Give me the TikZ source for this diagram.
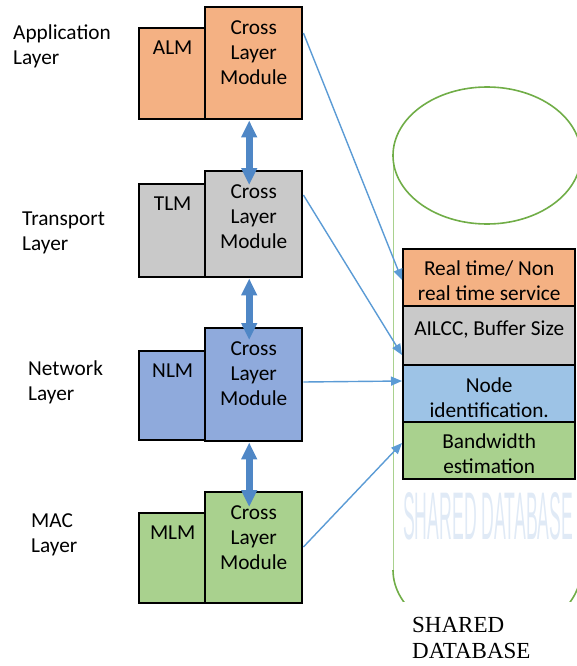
\documentclass[tikz,border=0pt]{standalone}
\usepackage{fontspec}
\setmainfont{Carlito}
\newfontfamily\serifdb{Liberation Serif}
\newfontfamily\sansdb{Liberation Sans}
\usetikzlibrary{arrows.meta,calc}
\definecolor{orfill}{RGB}{244,177,131}
\definecolor{grfill}{RGB}{201,201,201}
\definecolor{lbfill}{RGB}{143,170,220}
\definecolor{rbfill}{RGB}{157,195,230}
\definecolor{gnfill}{RGB}{169,209,142}
\definecolor{rim}{RGB}{112,173,71}
\definecolor{rimlight}{RGB}{169,209,142}
\definecolor{dblblue}{RGB}{79,135,198}
\definecolor{linkblue}{RGB}{91,155,213}
\definecolor{wmark}{RGB}{224,234,246}
\begin{document}
\begin{tikzpicture}[x=1pt,y=-1pt,
  box/.style={draw=black, line width=2.4pt, inner sep=0pt, anchor=north west},
  txt/.style={font=\fontsize{21.3}{25}\selectfont, inner sep=0pt, align=center, anchor=north},
  lay/.style={font=\fontsize{21.3}{25}\selectfont, inner sep=0pt, align=left, anchor=north west},
  dbl/.style={draw=dblblue, line width=7pt, {Triangle[length=17pt,width=15pt]}-{Triangle[length=17pt,width=15pt]}},
  link/.style={draw=linkblue, line width=1.4pt, -{Triangle[length=11pt,width=9pt]}},
  cylrim/.style={draw=rim, line width=1.6pt},
  cylside/.style={draw=rimlight, line width=1pt}]
\useasboundingbox (0,0) rectangle (577,666);
\clip (0,0) rectangle (577,666);

% shared database cylinder
\draw[cylside] (393,155) -- (393,570);
\draw[cylrim] (487,155.5) ellipse [x radius=94, y radius=68.5];
\begin{scope}
  \clip (380,570) rectangle (577,666);
  \draw[cylrim] (487,570) ellipse [x radius=94, y radius=68.5];
\end{scope}
\fill[white] (380,602) rectangle (577,666);
\node[anchor=south west, inner sep=0pt, text=wmark] (wm) at (403,540) {\resizebox{170pt}{47pt}{\sansdb SHARED DATABASE}};
\node[anchor=north west, inner sep=0pt, align=left, font=\serifdb\fontsize{23}{26}\selectfont] (dbl) at (412,617) {SHARED\\DATABASE};

% layer labels
\node[lay] (lApp) at (13,25) {Application\\Layer};
\node[lay] (lTr) at (22,212) {Transport\\Layer};
\node[lay] (lNet) at (28,360.5) {Network\\Layer};
\node[lay] (lMac) at (31,513) {MAC\\Layer};

% application
\node[box, fill=orfill, minimum width=67pt, minimum height=91pt] (alm) at (138,27) {};
\node[box, fill=orfill, minimum width=97pt, minimum height=112pt] (clmA) at (204,6) {};
\node[txt] (almT) at ([yshift=-14pt]alm.north) {ALM};
\node[txt] (clmAT) at ([yshift=-14pt]clmA.north) {Cross\\Layer\\Module};

% transport
\node[box, fill=grfill, minimum width=67pt, minimum height=93pt] (tlm) at (138,183) {};
\node[box, fill=grfill, minimum width=97pt, minimum height=106pt] (clmT) at (204,170) {};
\node[txt] (tlmT) at ([yshift=-14pt]tlm.north) {TLM};
\node[txt] (clmTT) at ([yshift=-14pt]clmT.north) {Cross\\Layer\\Module};

% network
\node[box, fill=lbfill, minimum width=67pt, minimum height=89pt] (nlm) at (138,350) {};
\node[box, fill=lbfill, minimum width=97pt, minimum height=113pt] (clmN) at (204,327) {};
\node[txt] (nlmT) at ([yshift=-14pt]nlm.north) {NLM};
\node[txt] (clmNT) at ([yshift=-14pt]clmN.north) {Cross\\Layer\\Module};

% MAC
\node[box, fill=gnfill, minimum width=67pt, minimum height=90pt] (mlm) at (138,512) {};
\node[box, fill=gnfill, minimum width=97pt, minimum height=111pt] (clmM) at (204,491) {};
\node[txt] (mlmT) at ([yshift=-14pt]mlm.north) {MLM};
\node[txt] (clmMT) at ([yshift=-14pt]clmM.north) {Cross\\Layer\\Module};

% database entries
\node[box, fill=orfill, minimum width=172pt, minimum height=57pt] (rt1) at (402,248) {};
\node[box, fill=grfill, minimum width=172pt, minimum height=59pt] (rt2) at (402,305) {};
\node[box, fill=rbfill, minimum width=172pt, minimum height=57pt] (rt3) at (402,364) {};
\node[box, fill=gnfill, minimum width=172pt, minimum height=57pt] (rt4) at (402,421) {};
\node[txt] (rt1T) at ([yshift=-13pt]rt1.north) {Real time/ Non\\real time service};
\node[txt] (rt2T) at ([yshift=-16pt]rt2.north) {AILCC, Buffer Size};
\node[txt] (rt3T) at ([yshift=-13.5pt]rt3.north) {Node\\identification.};
\node[txt] (rt4T) at ([yshift=-13pt]rt4.north) {Bandwidth\\estimation};

% vertical double arrows
\draw[dbl] ([xshift=-4.5pt]clmA.south) -- ([xshift=-4.5pt,yshift=-15pt]clmT.north);
\draw[dbl] ([xshift=-4.5pt]clmT.south) -- ([xshift=-4.5pt,yshift=-13pt]clmN.north);
\draw[dbl] ([xshift=-4.5pt]clmN.south) -- ([xshift=-4.5pt,yshift=-16pt]clmM.north);

% links to database
\draw[link] ([yshift=-27pt]clmA.north east) -- ([yshift=-32pt]rt1.north west);
\draw[link] ([yshift=-25pt]clmT.north east) -- ([yshift=-50pt]rt2.north west);
\draw[link] ([yshift=-55pt]clmN.north east) -- ([yshift=-17pt]rt3.north west);
\draw[link] ([yshift=-56pt]clmM.north east) -- ([yshift=-22pt]rt4.north west);
\end{tikzpicture}
\end{document}
